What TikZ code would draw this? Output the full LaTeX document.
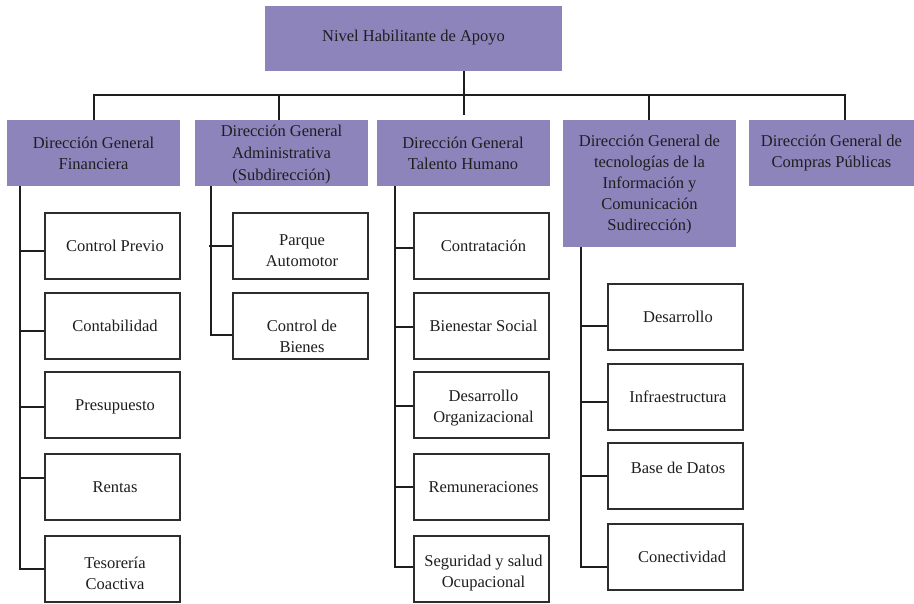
\documentclass[tikz,border=0pt]{standalone}
\usepackage{fontspec}
\setmainfont{Liberation Serif}
\definecolor{pur}{RGB}{142,132,188}
\definecolor{ink}{RGB}{30,30,30}
\definecolor{edge}{RGB}{45,45,45}
\begin{document}
\begin{tikzpicture}[x=1pt,y=-1pt,
  txt/.style={font=\fontsize{16.5}{21}\selectfont, align=center, inner sep=0pt, text=ink},
  one/.style={text height=14pt, text depth=1pt},
  pbox/.style={fill=pur, draw=none, inner sep=0pt, minimum width=173pt, minimum height=66pt},
  cbox/.style={draw=edge, line width=1.4pt, fill=white, inner sep=0pt, minimum width=135pt, minimum height=66pt},
  conn/.style={draw=ink, line width=1.4pt},
  bold conn/.style={draw=ink, line width=2.6pt},
  tick/.style={draw=ink, line width=2.2pt},
]
\useasboundingbox (0,0) rectangle (914,604);
\newcommand\mybox[7]{\node[cbox] (#1) at (#2,#3) {}; \node[txt,#7] (#1t) at (#4,#5) {#6};}

% top
\node[pbox, minimum width=297pt, minimum height=65pt] (top) at (413.5,38.5) {};
\node[txt, one] (topt) at (413.5,35) {Nivel Habilitante de Apoyo};

% level 2
\node[pbox] (fin) at (93.5,153) {};
\node[txt] (fint) at (93.5,153) {Dirección General\\Financiera};
\node[pbox] (adm) at (281.5,153) {};
\node[txt, font=\fontsize{16.5}{22}\selectfont] (admt) at (281.5,155) {Dirección General\\Administrativa\\(Subdirección)};
\node[pbox] (tal) at (463,153) {};
\node[txt] (talt) at (463,153) {Dirección General\\Talento Humano};
\node[pbox, minimum height=127pt] (tec) at (649.5,183.5) {};
\node[txt] (tect) at (649.5,185) {Dirección General de\\tecnologías de la\\Información y\\Comunicación\\Sudirección)};
\node[pbox, minimum width=165pt] (cmp) at (831.5,153) {};
\node[txt] (cmpt) at (831.5,153) {Dirección General de\\Compras Públicas};

% bus
\coordinate (bF) at (94,95);
\coordinate (bA) at (279,95);
\coordinate (bT) at (649,95);
\coordinate (bC) at (845,95);
\draw[conn] (fin.north -| bF) -- (bF) -- (bC) -- (cmp.north -| bC);
\draw[bold conn] (bA) -- (adm.north -| bA);
\draw[bold conn] (bT) -- (tec.north -| bT);
\draw[bold conn] (top.south -| 464,0) -- (464,115);

% Financiera children
\mybox{cp}{112.5}{246}{115}{245}{Control Previo}{one}
\mybox{cont}{112.5}{326}{115}{325}{Contabilidad}{one}
\mybox{pres}{112.5}{405}{115}{404}{Presupuesto}{one}
\mybox{ren}{112.5}{487}{115}{486}{Rentas}{one}
\mybox{tes}{112.5}{569}{115}{573}{Tesorería\\Coactiva}{}
\coordinate (vF) at (20,186);
\draw[conn] (vF) -- (20,569) -- (tes.west |- 0,569);
\draw[tick] (20,251) -- (cp.west |- 0,251);
\draw[tick] (20,331) -- (cont.west |- 0,331);
\draw[tick] (20,407) -- (pres.west |- 0,407);
\draw[tick] (20,478) -- (ren.west |- 0,478);

% Administrativa children
\mybox{pa}{300.5}{246}{302}{251}{Parque\\Automotor}{}
\mybox{cb}{300.5}{326}{302}{336}{Control de\\Bienes}{}
\draw[conn] (adm.south -| 211,0) -- (211,335) -- (cb.west |- 0,335);
\draw[tick] (209,246) -- (pa.west |- 0,246);

% Talento children
\mybox{ctr}{481.5}{246}{483.5}{245}{Contratación}{one}
\mybox{bs}{481.5}{326}{483.5}{325}{Bienestar Social}{one}
\mybox{dor}{481.5}{405}{483.5}{408.5}{Desarrollo\\Organizacional}{}
\mybox{rem}{481.5}{487}{483.5}{486}{Remuneraciones}{one}
\mybox{seg}{481.5}{569}{483.5}{573.5}{Seguridad y salud\\Ocupacional}{}
\draw[conn] (tal.south -| 395,0) -- (395,567) -- (seg.west |- 0,567);
\draw[tick] (395,248) -- (ctr.west |- 0,248);
\draw[tick] (395,327) -- (bs.west |- 0,327);
\draw[tick] (395,406) -- (dor.west |- 0,406);
\draw[tick] (395,487) -- (rem.west |- 0,487);

% Tecnologías children
\mybox{des}{675.5}{317}{678}{316}{Desarrollo}{one}
\mybox{inf}{675.5}{397}{678}{396}{Infraestructura}{one}
\mybox{bd}{675.5}{476}{678}{467}{Base de Datos}{one}
\mybox{con}{675.5}{557}{682}{556}{Conectividad}{one}
\draw[conn] (tec.south -| 581,0) -- (581,567) -- (con.west |- 0,567);
\draw[tick] (581,326) -- (des.west |- 0,326);
\draw[tick] (581,402) -- (inf.west |- 0,402);
\draw[tick] (581,476) -- (bd.west |- 0,476);
\end{tikzpicture}
\end{document}
